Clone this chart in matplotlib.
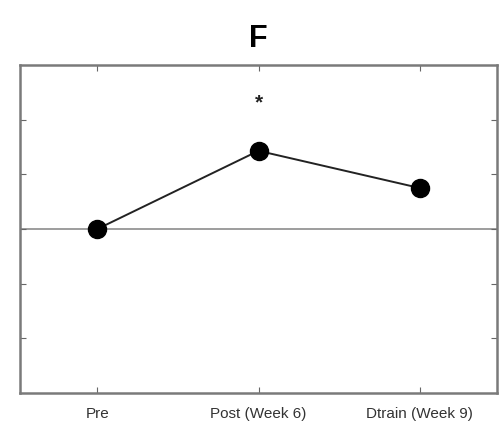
import matplotlib
matplotlib.use("Agg")
import matplotlib.pyplot as plt

plt.rcParams['font.family'] = ['Liberation Sans', 'DejaVu Sans']

timepoints = ["Pre", "Post (Week 6)", "Dtrain (Week 9)"]
change = [0.0, 1.43, 0.75]
sig_marks = ["", "*", ""]
sig_height = 2.3

fig = plt.figure(figsize=(4.99, 4.25), dpi=100)
ax = fig.add_axes([20 / 499, 32 / 425, 477 / 499, 328 / 425])

x = list(range(1, len(timepoints) + 1))
ax.axhline(0, color="#8c8c8c", lw=1.2, zorder=1)
ax.plot(x, change, color="#222222", lw=1.4, marker="o", ms=13,
        mfc="black", mec="black", zorder=3)

for xi, s in zip(x, sig_marks):
    if s:
        ax.text(xi, sig_height, s, ha="center", va="center", fontsize=15,
                fontweight="bold", color="#222222")

ax.set_xlim(0.52, 3.48)
ax.set_ylim(-3, 3)
ax.set_xticks(x)
ax.set_xticklabels(timepoints, fontsize=11, color="#333333")
ax.set_yticks([-2, -1, 0, 1, 2])
ax.set_yticklabels([])
ax.tick_params(direction="in", top=True, right=True, length=4,
               color="#666666", pad=10)
for sp in ax.spines.values():
    sp.set_color("#7a7a7a")
    sp.set_linewidth(1.8)

ax.set_title("F", fontsize=22, fontweight="bold", pad=13)

fig.savefig("out.png", dpi=100)
